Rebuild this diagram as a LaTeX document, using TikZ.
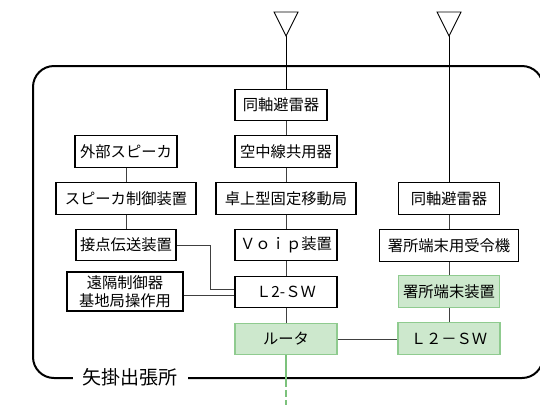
\documentclass[tikz,border=0pt]{standalone}
\usepackage{fontspec}
\setmainfont{Noto Sans CJK JP}
\definecolor{gfill}{HTML}{CDE8CD}
\definecolor{gdraw}{HTML}{8FCB8F}
\definecolor{gline}{HTML}{7CC27C}
\definecolor{conn}{HTML}{404040}
\begin{document}
\begin{tikzpicture}[x=1pt,y=-1pt,
  box/.style={draw=black,line width=1.1pt,fill=white,rectangle,inner sep=0pt,minimum height=31.5pt,font=\fontsize{15.3pt}{17pt}\selectfont,align=center},
  gbox/.style={box,draw=gdraw,fill=gfill},
  wire/.style={draw=conn,line width=0.9pt},
  ant/.style={draw=black,line width=0.9pt}]
\useasboundingbox (0,0) rectangle (540,405);
\clip (0,0) rectangle (540,405);
% frame
\draw[line width=2pt,rounded corners=21pt] (33,66) rectangle (543,378);
\node[fill=white,inner xsep=10pt,inner ysep=2pt,font=\fontsize{19pt}{21pt}\selectfont] (lbl) at (130,377) {矢掛出張所};
% antennas
\coordinate (a1) at (286,36);
\coordinate (a2) at (449,36);
\draw[ant] (274,12) -- (298,12) -- (a1) -- cycle;
\draw[ant] (437,12) -- (461,12) -- (a2) -- cycle;
% center column
\node[box,minimum width=92pt] (ca) at (281,105) {同軸避雷器};
\node[box,minimum width=102pt] (cb) at (286,151.5) {空中線共用器};
\node[box,minimum width=140pt] (cc) at (286,198.5) {卓上型固定移動局};
\node[box,minimum width=102pt] (cd) at (286,245) {Ｖｏｉｐ装置};
\node[box,minimum width=102pt] (ce) at (286,292) {Ｌ2-ＳＷ};
\node[gbox,minimum width=102pt] (cf) at (286,339) {ルータ};
% left column
\node[box,minimum width=102pt] (la) at (126,151.5) {外部スピーカ};
\node[box,minimum width=140pt] (lb) at (126,198.5) {スピーカ制御装置};
\node[box,minimum width=100pt] (lc) at (126,245) {接点伝送装置};
\node[box,minimum width=116pt,minimum height=39pt,font=\fontsize{15.3pt}{17.5pt}\selectfont] (ld) at (125,291.5) {遠隔制御器\\基地局操作用};
% right column
\node[box,minimum width=101pt] (ra) at (449,198.5) {同軸避雷器};
\node[box,minimum width=139pt] (rb) at (449,245.5) {署所端末用受令機};
\node[gbox,minimum width=101pt] (rc) at (449,291.5) {署所端末装置};
\node[gbox,minimum width=102pt] (rd) at (449,338.5) {Ｌ２－ＳＷ};
% connectors
\coordinate (gend) at (286,405);
\draw[ant] (a1) -- (a1 |- ca.north);
\draw[ant] (a2) -- (ra.north);
\draw[wire] (286,121) -- (cb.north);
\draw[wire] (cb) -- (cc);
\draw[wire] (cc) -- (cd);
\draw[wire] (cd) -- (ce);
\draw[wire] (ce) -- (cf);
\draw[wire] (la) -- (lb);
\draw[wire] (lb) -- (lc);
\draw[wire] (lc.east) -- (210,245) -- (210,289) -- (ce.west |- 0,289);
\draw[wire] (ld.east |- 0,295) -- (ce.west |- 0,295);
\draw[wire] (cf.east) -- (rd.west |- cf.east);
\draw[wire] (ra) -- (rb);
\draw[wire] (rb) -- (rc);
\draw[wire] (rc) -- (rd);
\draw[gline,line width=1.1pt,dash pattern=on 32pt off 3pt on 7pt off 3pt] (cf.south) -- (gend);
\end{tikzpicture}
\end{document}
